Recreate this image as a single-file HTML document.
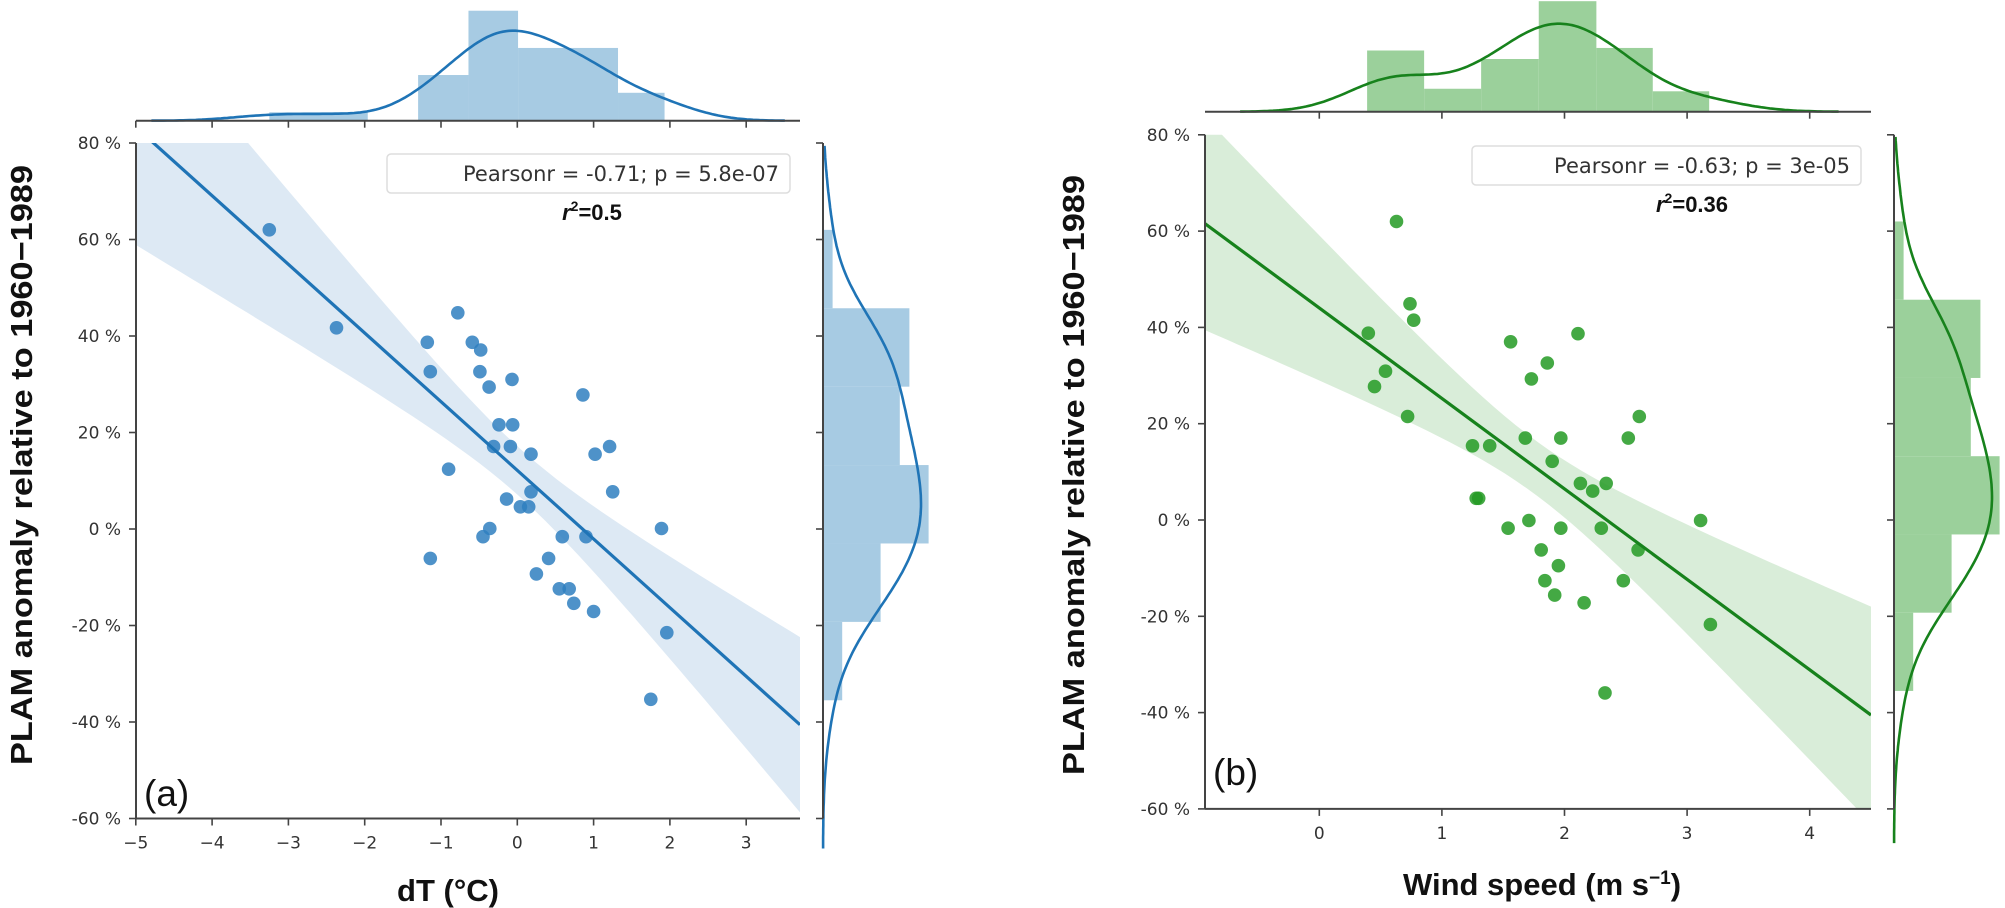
<!DOCTYPE html>
<html><head><meta charset="utf-8">
<style>
html,body{margin:0;padding:0;background:#fff;}
svg{display:block;}
.tick{font-family:"DejaVu Sans","Liberation Sans",sans-serif;font-size:17px;fill:#333;}
.lbl{font-family:"Liberation Sans",sans-serif;font-weight:bold;font-size:31px;fill:#111;}
.leg{font-family:"DejaVu Sans","Liberation Sans",sans-serif;font-size:21px;fill:#333;}
.r2{font-family:"Liberation Sans",sans-serif;font-weight:bold;font-size:22px;fill:#111;}
.pan{font-family:"Liberation Sans",sans-serif;font-size:37px;fill:#111;}
</style></head>
<body>
<svg id="fig" width="2005" height="908" viewBox="0 0 2005 908" xmlns="http://www.w3.org/2000/svg"></svg>
<script>
// ---------- data ----------
const dTx = [-3.25,-2.37,-0.78,-1.18,-0.59,-0.48,-1.14,-0.49,-0.37,-0.07,0.86,-0.24,-0.06,-0.31,-0.09,0.18,1.21,1.02,-0.90,0.18,1.25,-0.14,0.04,0.15,-0.36,-0.45,0.59,0.90,1.89,-1.14,0.41,0.25,0.55,0.68,0.74,1.00,1.96,1.75];
const dTy = [62.0,41.7,44.8,38.7,38.7,37.1,32.6,32.6,29.4,31.0,27.8,21.6,21.6,17.1,17.1,15.5,17.1,15.5,12.4,7.7,7.7,6.2,4.6,4.6,0.1,-1.6,-1.6,-1.6,0.1,-6.1,-6.1,-9.3,-12.4,-12.4,-15.4,-17.1,-21.5,-35.3];
const wsx = [0.63,0.74,0.77,0.40,0.54,0.45,0.72,1.56,1.86,1.73,2.11,1.25,1.39,1.28,1.30,1.68,1.97,1.90,2.52,2.61,2.13,2.23,2.34,1.71,1.54,1.97,2.30,3.11,2.60,1.81,1.95,1.84,2.48,1.92,2.16,3.19,2.33];
const wsy = [62.0,44.9,41.5,38.8,30.9,27.7,21.5,37.0,32.6,29.3,38.7,15.4,15.4,4.5,4.5,17.0,17.0,12.2,17.0,21.5,7.6,6.0,7.6,-0.1,-1.7,-1.7,-1.7,-0.1,-6.2,-6.2,-9.5,-12.6,-12.6,-15.6,-17.2,-21.7,-35.9];
const histEdgesA = [-3.25,-1.96,-1.30,-0.64,0.01,1.32,1.93];
const histCountsA = [1,0,5.4,13,8.6,3.3];
const histEdgesB = [0.39,0.855,1.32,1.79,2.26,2.72,3.18];
const histCountsB = [7.2,2.7,6.2,13,7.5,2.4];
const yHistEdges = [62,45.75,29.5,13.25,-3,-19.25,-35.5];
const yHistCounts = [1,9,8,11,6,2];
const xTicksA = [-5,-4,-3,-2,-1,0,1,2,3];
const xTicksB = [0,1,2,3,4];
const yTicks = [80,60,40,20,0,-20,-40,-60];
const legendA = "Pearsonr = -0.71; p = 5.8e-07";
const legendB = "Pearsonr = -0.63; p = 3e-05";
const r2A = "0.5", r2B = "0.36";

const NS = "http://www.w3.org/2000/svg";
const svg = document.getElementById('fig');
function mk(tag, attrs, parent){ const e=document.createElementNS(NS,tag); for(const k in attrs) e.setAttribute(k,attrs[k]); (parent||svg).appendChild(e); return e; }

function kde(vals, lo, hi, n){
  const m = vals.reduce((a,b)=>a+b,0)/vals.length;
  const sd = Math.sqrt(vals.reduce((a,b)=>a+(b-m)*(b-m),0)/(vals.length-1));
  const bw = sd*Math.pow(vals.length,-0.2);
  const a = Math.min(...vals)-3*bw, b = Math.max(...vals)+3*bw;
  const out=[];
  for(let i=0;i<=n;i++){ const x=a+(b-a)*i/n; let s=0; for(const v of vals){ const z=(x-v)/bw; s+=Math.exp(-0.5*z*z);} out.push([x,s/(vals.length*bw*Math.sqrt(2*Math.PI))]); }
  return out.filter(p=>p[0]>=lo&&p[0]<=hi);
}

function panel(c){
  const g = mk('g',{}); 
  
  
  const X = v => c.x0 + (v - c.v0)*c.ppx;
  const Y = v => c.yz - v*c.ppy;
  const left = c.axL, right = c.axR, top = Y(80), bot = Y(-60);
  const clipId = 'clip-'+c.id;
  const cp = mk('clipPath',{id:clipId},g); mk('rect',{x:left,y:top,width:right-left,height:bot-top},cp);
  // regression
  const xs=c.xs, ys=c.ys, n=xs.length;
  const mx=xs.reduce((a,b)=>a+b,0)/n, my=ys.reduce((a,b)=>a+b,0)/n;
  let sxx=0,sxy=0; for(let i=0;i<n;i++){sxx+=(xs[i]-mx)**2; sxy+=(xs[i]-mx)*(ys[i]-my);}
  const slope=sxy/sxx, icpt=my-slope*mx;
  let sse=0; for(let i=0;i<n;i++){sse+=(ys[i]-icpt-slope*xs[i])**2;}
  const s=Math.sqrt(sse/(n-2)), t=2.03;
  const vL=(left-c.x0)/c.ppx+c.v0, vR=(right-c.x0)/c.ppx+c.v0;
  const up=[],dn=[];
  for(let i=0;i<=60;i++){ const v=vL+(vR-vL)*i/60; const h=t*s*Math.sqrt(1/n+(v-mx)**2/sxx); const yh=icpt+slope*v; up.push(X(v).toFixed(1)+','+Y(yh+h).toFixed(1)); dn.unshift(X(v).toFixed(1)+','+Y(yh-h).toFixed(1)); }
  const band = mk('polygon',{points:up.concat(dn).join(' '),fill:c.band,'clip-path':'url(#'+clipId+')'},g);
  
  
  for(let i=0;i<n;i++){
    const p = mk('circle',{cx:X(xs[i]).toFixed(1),cy:Y(ys[i]).toFixed(1),r:6.8,fill:c.pt,'fill-opacity':0.85},g);
    
    
  }
  const ln = mk('line',{x1:X(vL),y1:Y(icpt+slope*vL),x2:X(vR),y2:Y(icpt+slope*vR),stroke:c.line,'stroke-width':3.2,'clip-path':'url(#'+clipId+')'},g);
  
  
  // axes
  mk('line',{x1:left,y1:top,x2:left,y2:bot,stroke:'#444','stroke-width':2},g);
  mk('line',{x1:left,y1:bot,x2:right,y2:bot,stroke:'#444','stroke-width':2},g);
  yTicks.forEach(v=>{ mk('line',{x1:left-7,y1:Y(v),x2:left,y2:Y(v),stroke:'#444','stroke-width':1.6},g);
    const tx=mk('text',{x:left-15,y:Y(v)+6,'text-anchor':'end',class:'tick'},g); tx.textContent=v+' %';
    
     });
  c.xt.forEach(v=>{ mk('line',{x1:X(v),y1:bot,x2:X(v),y2:bot+7,stroke:'#444','stroke-width':1.6},g);
    const tx=mk('text',{x:X(v),y:bot+30,'text-anchor':'middle',class:'tick'},g); tx.textContent=(v<0?'\u2212'+(-v):v);
    
     });
  // top marginal
  const tb=c.topBase;
  for(let i=0;i<c.hc.length;i++){ if(!c.hc[i]) continue; const h=c.hc[i]*c.hpc;
    const r=mk('rect',{x:X(c.he[i]),y:tb-h,width:X(c.he[i+1])-X(c.he[i]),height:h,fill:c.hist},g);
    
     }
  const kx=kde(xs,vL,vR,200); const kmx=Math.max(...kx.map(p=>p[1]));
  const kp=mk('polyline',{points:kx.map(p=>X(p[0]).toFixed(1)+','+(tb-p[1]/kmx*c.kTop).toFixed(1)).join(' '),fill:'none',stroke:c.line,'stroke-width':2.6},g);
  
  
  mk('line',{x1:left,y1:tb,x2:right,y2:tb,stroke:'#444','stroke-width':2},g);
  c.xt.forEach(v=>mk('line',{x1:X(v),y1:tb,x2:X(v),y2:tb+7,stroke:'#444','stroke-width':1.6},g));
  // right marginal
  const rb=c.rightBase;
  for(let i=0;i<yHistCounts.length;i++){ const w=yHistCounts[i]*9.6;
    const r=mk('rect',{x:rb,y:Y(yHistEdges[i]),width:w,height:Y(yHistEdges[i+1])-Y(yHistEdges[i]),fill:c.hist},g);
    
     }
  const ky=kde(ys,-90,80,200); const kmy=Math.max(...ky.map(p=>p[1]));
  const kq=mk('polyline',{points:ky.map(p=>(rb+p[1]/kmy*98).toFixed(1)+','+Y(p[0]).toFixed(1)).join(' '),fill:'none',stroke:c.line,'stroke-width':2.6},g);
  
  
  mk('line',{x1:rb,y1:top,x2:rb,y2:bot,stroke:'#444','stroke-width':2},g);
  yTicks.forEach(v=>mk('line',{x1:rb-7,y1:Y(v),x2:rb,y2:Y(v),stroke:'#444','stroke-width':1.6},g));
  // legend
  const lb=mk('rect',{x:c.legX,y:c.legY,width:right-10-c.legX,height:39,rx:4,fill:'#fff',stroke:'#ddd','stroke-width':1.5},g);
  
  
  const lt=mk('text',{x:right-21,y:c.legY+27,'text-anchor':'end',class:'leg'},g); lt.textContent=c.leg;
  
  
  const rt=mk('text',{x:c.r2x,y:c.legY+66,'text-anchor':'middle',class:'r2'},g);
  rt.innerHTML='<tspan font-style="italic">r</tspan><tspan dy="-9" font-size="14">2</tspan><tspan dy="9">='+c.r2+'</tspan>';
  
  
  const pl=mk('text',{x:left+8,y:c.panY,class:'pan'},g); pl.textContent=c.pan;
  
  
  const yl=mk('text',{transform:'translate('+c.ylx+','+c.yly+') rotate(-90)','text-anchor':'end',class:'lbl',textLength:600,lengthAdjust:'spacingAndGlyphs'},g);
  yl.textContent='PLAM anomaly relative to 1960\u22121989';
  
  
  const xl=mk('text',{x:c.xlx,y:c.xly,'text-anchor':'middle',class:'lbl'},g); xl.innerHTML=c.xlab;
  
  
}

panel({id:'dt',xs:dTx,ys:dTy,x0:517.3,v0:0,ppx:76.3,yz:529,ppy:4.825,axL:136,axR:800,
  xt:xTicksA,topBase:120.7,rightBase:823,he:histEdgesA,hc:histCountsA,hpc:8.46,kTop:90,
  band:'#dde9f4',pt:'#2f7fbf',line:'#1f74b6',hist:'#a7cbe3',leg:legendA,legX:387,legY:154,r2:r2A,r2x:592,
  pan:'(a)',panY:806,ylx:32,yly:165,xlab:'dT (\u00B0C)',xlx:448,xly:901});
panel({id:'ws',xs:wsx,ys:wsy,x0:1319.3,v0:0,ppx:122.6,yz:520,ppy:4.815,axL:1205,axR:1871,
  xt:xTicksB,topBase:111.7,rightBase:1894,he:histEdgesB,hc:histCountsB,hpc:8.5,kTop:88,
  band:'#d9edd9',pt:'#239a23',line:'#17821c',hist:'#9bd09b',leg:legendB,legX:1472,legY:146,r2:r2B,r2x:1692,
  pan:'(b)',panY:785,ylx:1084,yly:175,xlab:'Wind speed (m s<tspan dy="-11" font-size="19">\u22121</tspan><tspan dy="11">)</tspan>',xlx:1542,xly:895});
</script>
</body></html>
